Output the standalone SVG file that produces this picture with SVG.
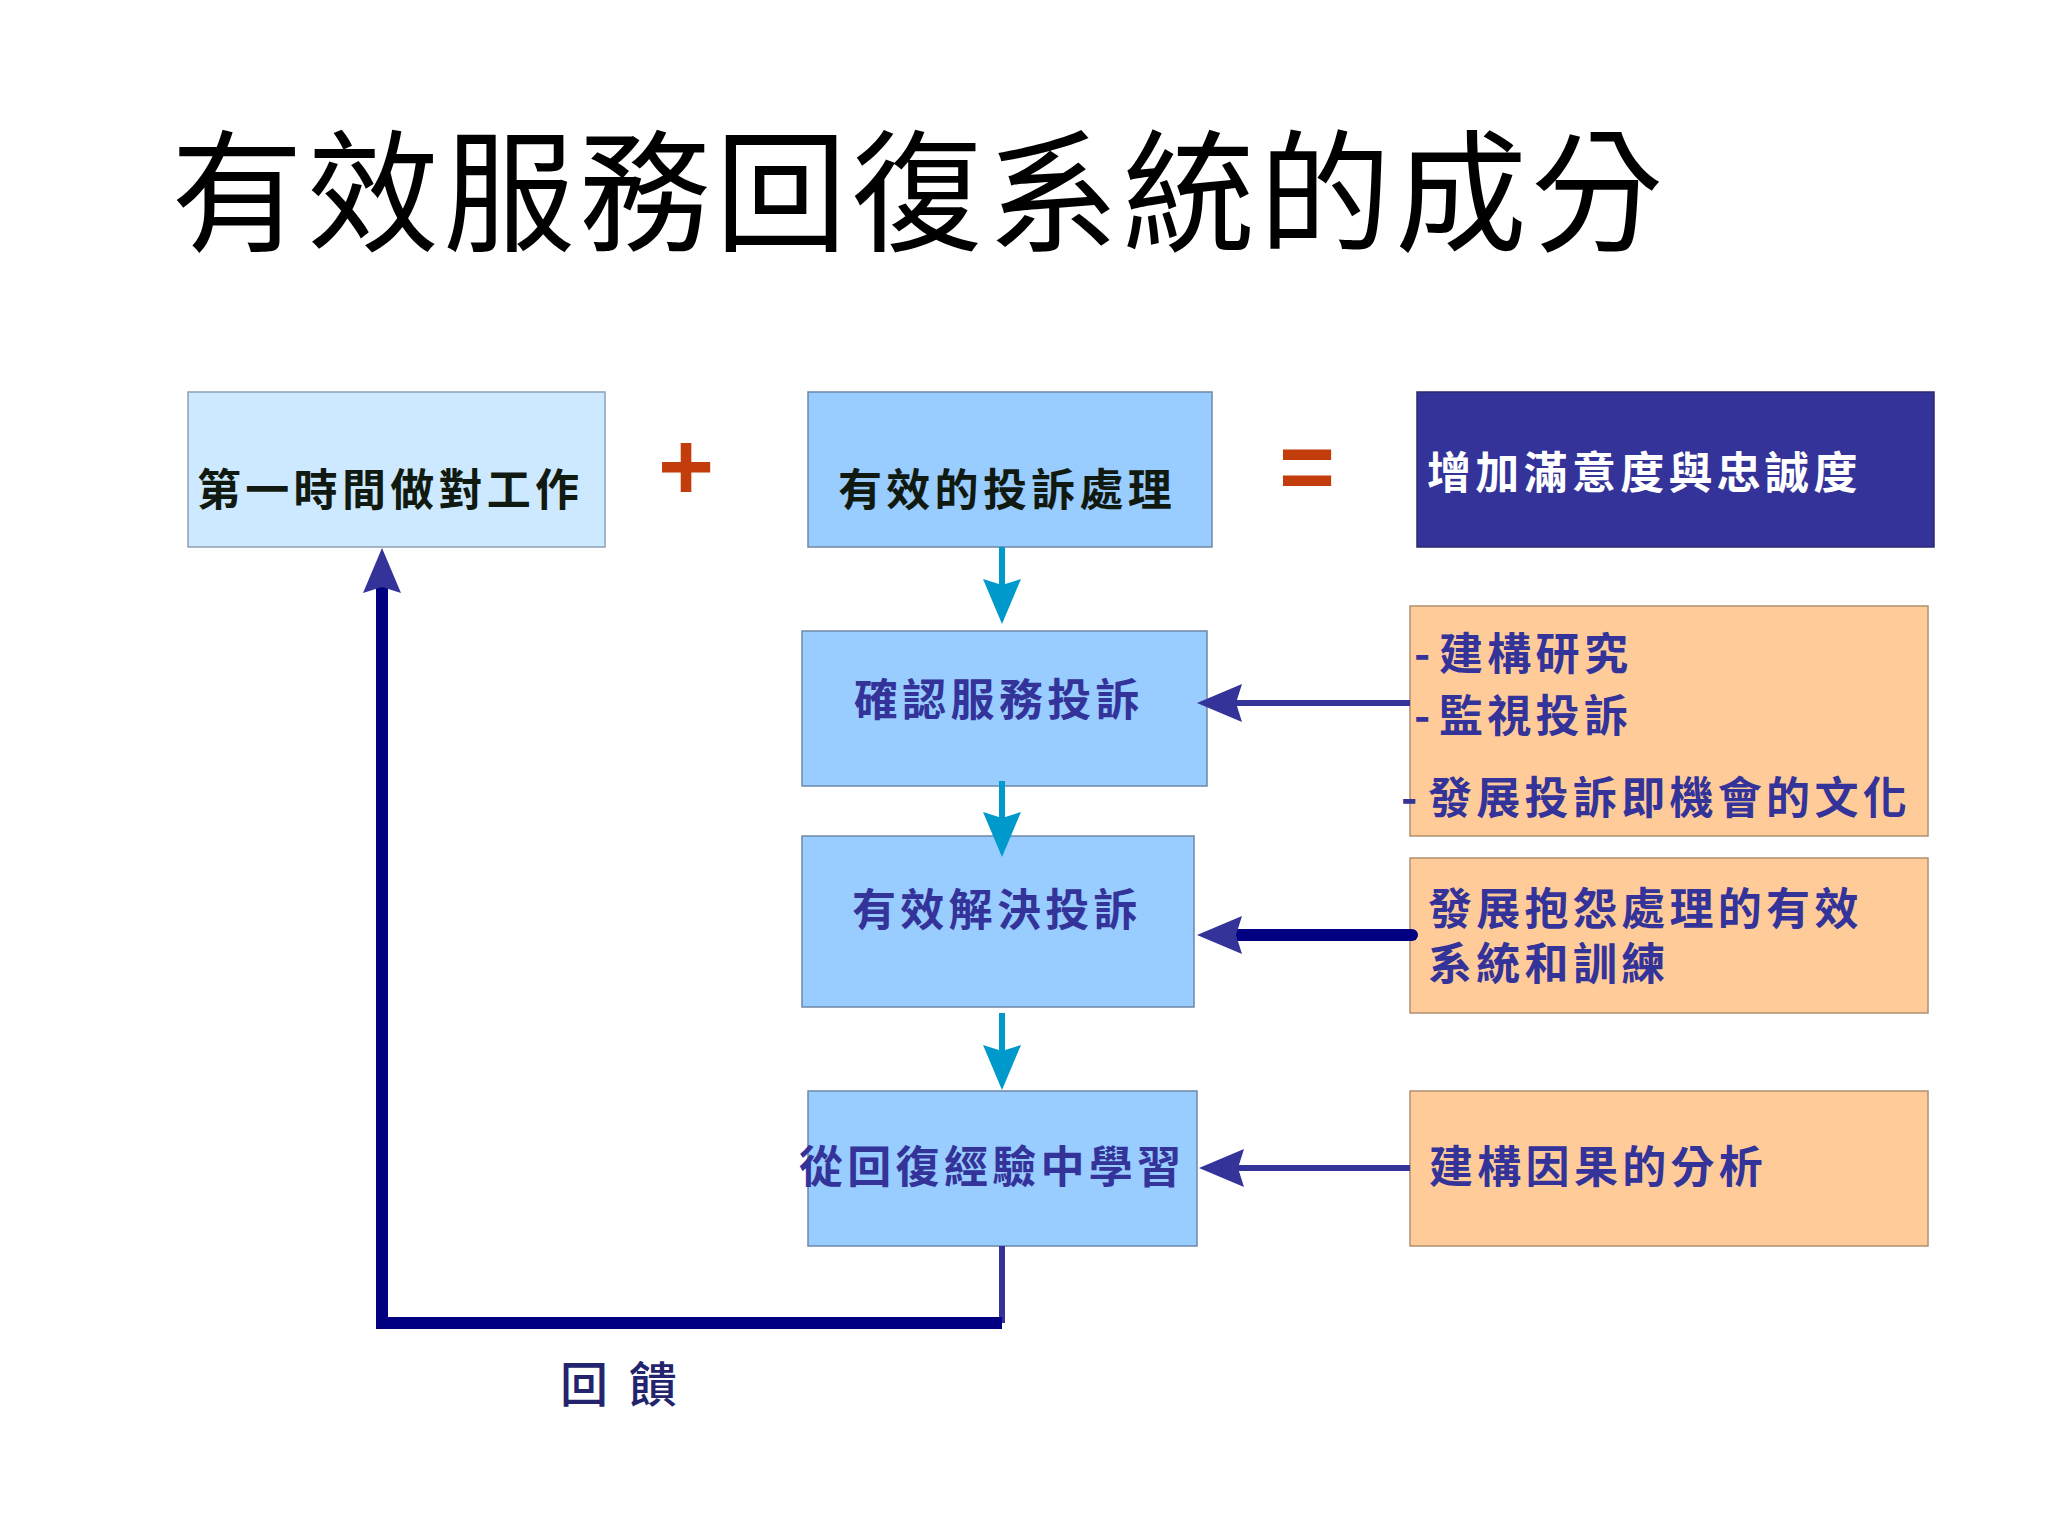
<svg xmlns="http://www.w3.org/2000/svg" width="2048" height="1536" viewBox="0 0 2048 1536">
<style>
.cjk{font-family:"Noto Sans CJK TC","Noto Sans CJK SC",sans-serif;}
.lbl{font-family:"Noto Sans CJK TC","Noto Sans CJK SC",sans-serif;font-weight:bold;font-size:44px;letter-spacing:4.3px;}
.blue{fill:#333399;}
.dash{letter-spacing:0;}
.op{font-family:"Liberation Sans",Arial,sans-serif;font-weight:bold;font-size:96px;fill:#c23c0c;text-anchor:middle;}
.teal{stroke:#0099cc;stroke-width:6;fill:none;}
.ind{stroke:#333399;stroke-width:6;fill:none;}
.navy{stroke:#000080;stroke-width:12;fill:none;}
</style>
<defs>
<marker id="ah-teal" markerUnits="userSpaceOnUse" viewBox="-46 -20 48 40" refX="-30" refY="0" markerWidth="48" markerHeight="40" orient="auto">
<path d="M0,0 L-45,-19 L-39,0 L-45,19 Z" fill="#0099cc"/>
</marker>
<marker id="ah-blue" markerUnits="userSpaceOnUse" viewBox="-46 -20 48 40" refX="-30" refY="0" markerWidth="48" markerHeight="40" orient="auto">
<path d="M0,0 L-45,-19 L-39,0 L-45,19 Z" fill="#333399"/>
</marker>
</defs>
<rect width="2048" height="1536" fill="#ffffff"/>
<text class="cjk" x="171" y="241" font-size="132" letter-spacing="4" fill="#000000">有效服務回復系統的成分</text>

<g id="node-first">
<rect x="188" y="392" width="417" height="155" fill="#cde9ff" stroke="#8fa0b4" stroke-width="1.5"/>
<text class="lbl" x="197" y="506" fill="#111a11">第一時間做對工作</text>
</g>
<text class="op" x="686" y="500">+</text>
<g id="node-handling">
<rect x="808" y="392" width="404" height="155" fill="#99ccff" stroke="#6d88a8" stroke-width="1.5"/>
<text class="lbl" x="838" y="506" fill="#111a11">有效的投訴處理</text>
</g>
<text class="op" x="1307" y="500">=</text>
<g id="node-result">
<rect x="1417" y="392" width="517" height="155" fill="#333399" stroke="#2a2a70" stroke-width="1.5"/>
<text class="lbl" x="1427" y="489" fill="#ffffff">增加滿意度與忠誠度</text>
</g>

<g id="node-identify">
<rect x="802" y="631" width="405" height="155" fill="#99ccff" stroke="#6d88a8" stroke-width="1.5"/>
<text class="lbl blue" x="854" y="716">確認服務投訴</text>
</g>
<g id="node-resolve">
<rect x="802" y="836" width="392" height="171" fill="#99ccff" stroke="#6d88a8" stroke-width="1.5"/>
<text class="lbl blue" x="852" y="926">有效解決投訴</text>
</g>
<g id="node-learn">
<rect x="808" y="1091" width="389" height="155" fill="#99ccff" stroke="#6d88a8" stroke-width="1.5"/>
<text class="lbl blue" x="799" y="1183">從回復經驗中學習</text>
</g>

<g id="node-research">
<rect x="1410" y="606" width="518" height="230" fill="#ffcc99" stroke="#b09070" stroke-width="1.5"/>
<text class="lbl blue" y="670"><tspan class="dash" x="1414">- </tspan><tspan x="1439">建構研究</tspan></text>
<text class="lbl blue" y="732"><tspan class="dash" x="1414">- </tspan><tspan x="1439">監視投訴</tspan></text>
<text class="lbl blue" y="814"><tspan class="dash" x="1401">- </tspan><tspan x="1428">發展投訴即機會的文化</tspan></text>
</g>
<g id="node-system">
<rect x="1410" y="858" width="518" height="155" fill="#ffcc99" stroke="#b09070" stroke-width="1.5"/>
<text class="lbl blue" x="1428" y="925">發展抱怨處理的有效</text>
<text class="lbl blue" x="1428" y="980">系統和訓練</text>
</g>
<g id="node-cause">
<rect x="1410" y="1091" width="518" height="155" fill="#ffcc99" stroke="#b09070" stroke-width="1.5"/>
<text class="lbl blue" x="1429" y="1183">建構因果的分析</text>
</g>

<g id="connectors">
<path class="teal" d="M1002,547 V594" marker-end="url(#ah-teal)"/>
<path class="teal" d="M1002,781 V827" marker-end="url(#ah-teal)"/>
<path class="teal" d="M1002,1013 V1060" marker-end="url(#ah-teal)"/>
<path class="ind" d="M1410,703 H1227" marker-end="url(#ah-blue)"/>
<path class="navy" stroke-linecap="round" d="M1412,935 H1227" marker-end="url(#ah-blue)"/>
<path class="ind" d="M1410,1168 H1229" marker-end="url(#ah-blue)"/>
<path class="ind" d="M1002,1246 V1323"/>
<path class="navy" d="M1002,1323 H382 V578" marker-end="url(#ah-blue)"/>
</g>

<text class="cjk" x="560" y="1402" font-size="48" font-weight="500" letter-spacing="5" fill="#23236e">回 饋</text>
</svg>
